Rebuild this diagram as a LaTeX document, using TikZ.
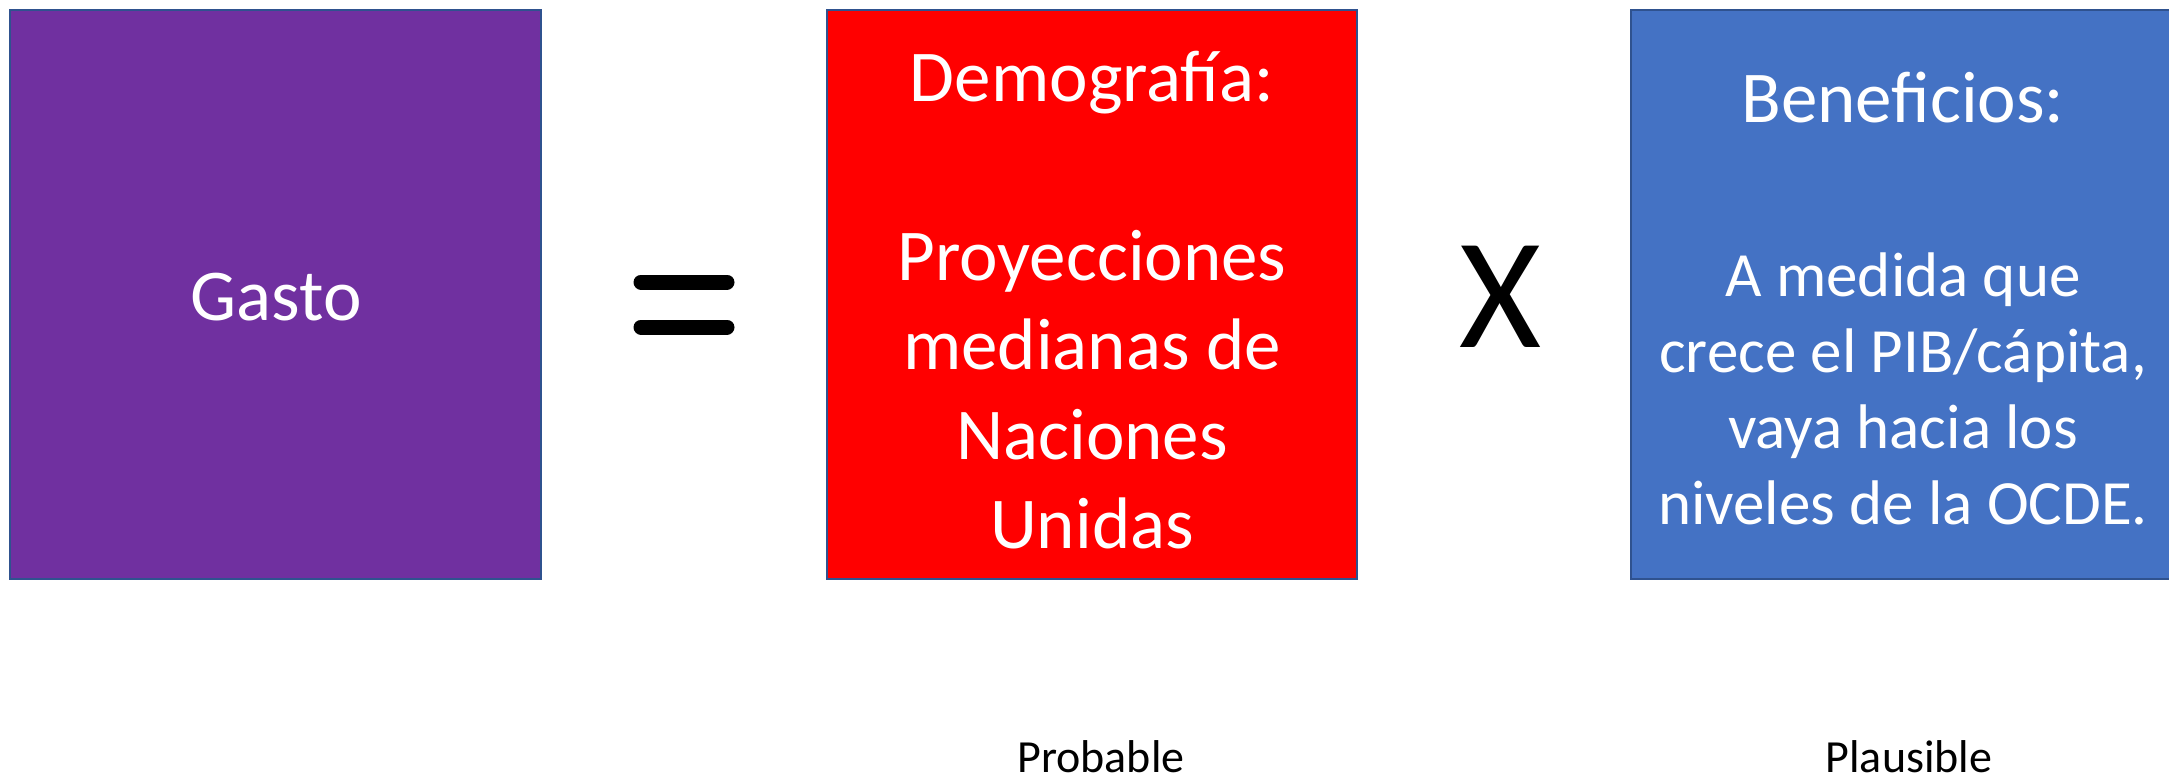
\documentclass[tikz,border=0pt]{standalone}
\usepackage{fontspec}
\setmainfont{Carlito}
\definecolor{cpurple}{HTML}{7030A0}
\definecolor{cred}{HTML}{FF0000}
\definecolor{cblue}{HTML}{4472C4}
\definecolor{cedge}{HTML}{2F528F}
\begin{document}
\begin{tikzpicture}[x=1pt,y=-1pt,
  panel/.style={draw=cedge, line width=2.5pt},
  bigtext/.style={text=white, align=center, font=\fontsize{73}{89.5}\selectfont},
  bodytext/.style={text=white, align=center, font=\fontsize{63}{76}\selectfont},
  lbl/.style={text=black, font=\fontsize{46}{55}\selectfont, anchor=base}]
\useasboundingbox (0,0) rectangle (2169,780);
\fill[white] (0,0) rectangle (2169,780);
\draw[panel, fill=cpurple] (10,10) rectangle (541,579);
\draw[panel, fill=cred] (827,10) rectangle (1357,579);
\draw[panel, fill=cblue] (1631,10) rectangle (2180,579);
\node[bigtext] (gasto) at (276,297) {Gasto};
\node[bigtext] (demo) at (1092,300) {Demograf\'ia:\\[0pt]\\Proyecciones\\medianas de\\Naciones\\Unidas};
\node[bigtext, anchor=base] (bene) at (1903,122) {Beneficios:};
\node[bodytext, anchor=base] (body) at (1903,296) {A medida que};
\node[bodytext, anchor=base] (body2) at (1903,372) {crece el PIB/c\'apita,};
\node[bodytext, anchor=base] (body3) at (1903,448) {vaya hacia los};
\node[bodytext, anchor=base] (body4) at (1903,524) {niveles de la OCDE.};
\coordinate (eqa1) at (641,282); \coordinate (eqb1) at (727,282);
\coordinate (eqa2) at (641,327); \coordinate (eqb2) at (727,327);
\draw[line width=15pt, line cap=round] (eqa1) -- (eqb1);
\draw[line width=15pt, line cap=round] (eqa2) -- (eqb2);
\node[font=\fontsize{158}{160}\selectfont, inner sep=0pt, anchor=base] (times) at (1500,347) {X};
\node[lbl] (prob) at (1101,772) {Probable};
\node[lbl] (plaus) at (1909,772) {Plausible};
\end{tikzpicture}
\end{document}
